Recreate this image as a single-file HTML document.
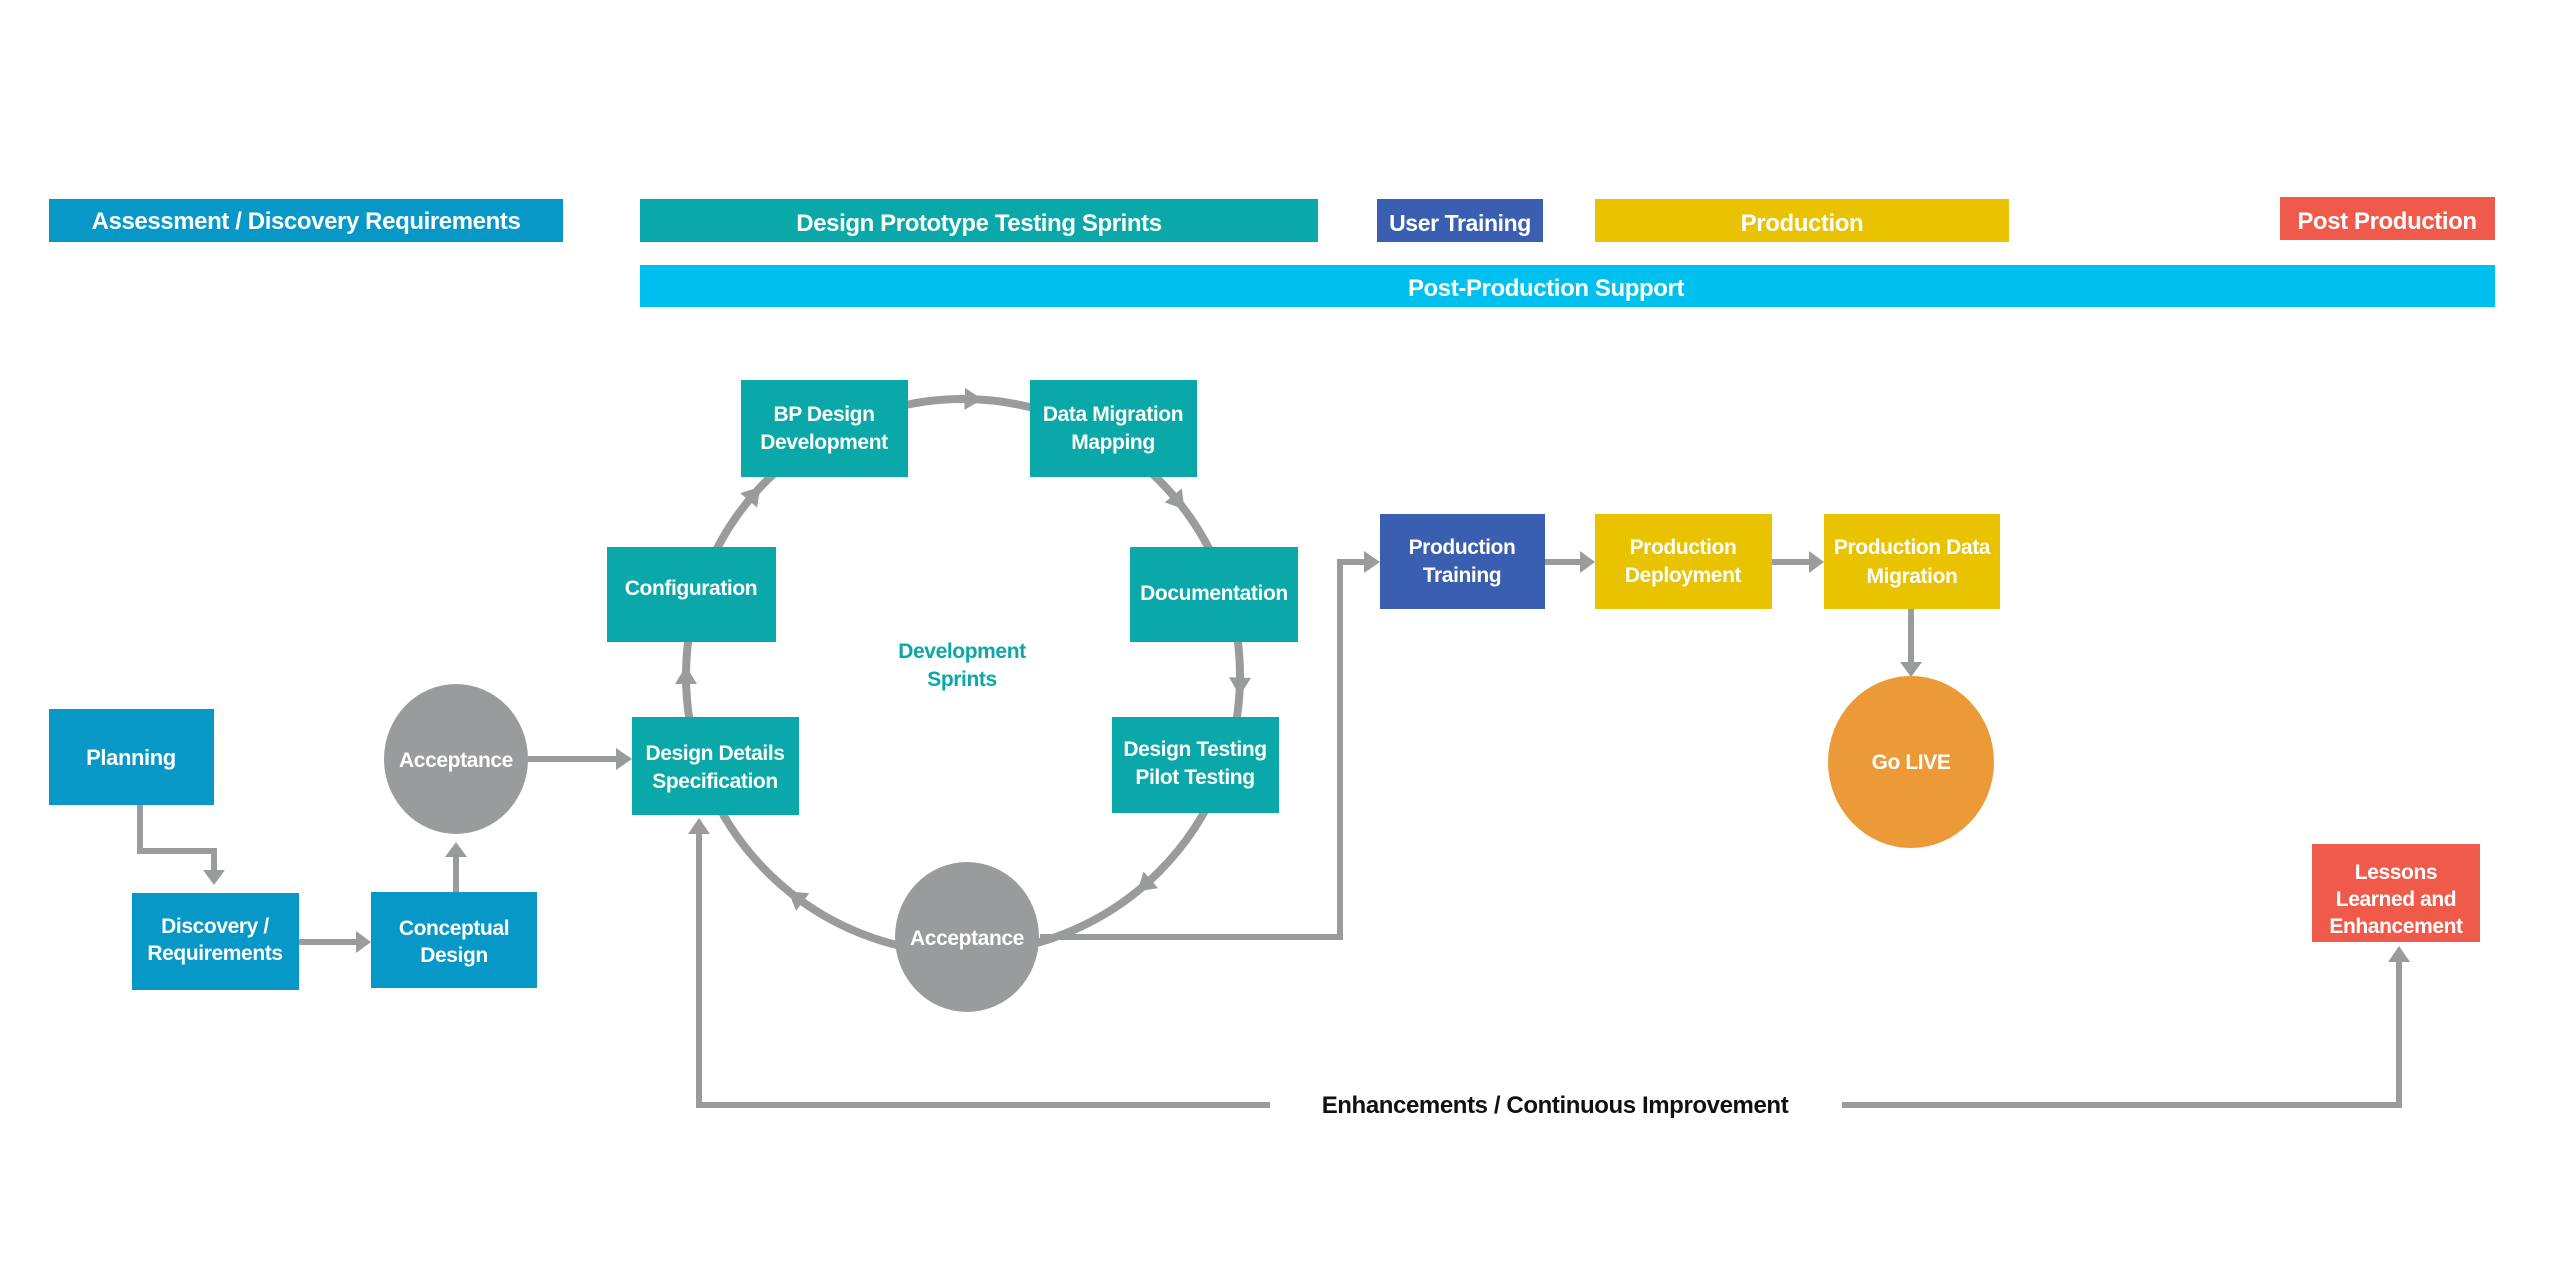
<!DOCTYPE html>
<html><head><meta charset="utf-8"><style>
html,body{margin:0;padding:0;background:#fff;}
svg{display:block;}
text{font-family:"Liberation Sans",sans-serif;font-weight:bold;fill:#fff;text-anchor:middle;letter-spacing:-0.4px;}
</style></head><body>
<svg width="2560" height="1280" viewBox="0 0 2560 1280" xmlns="http://www.w3.org/2000/svg">
<!-- header bars -->
<rect x="49" y="199" width="514" height="43" fill="#0898c8"/>
<text x="306" y="229" font-size="24">Assessment / Discovery Requirements</text>
<rect x="640" y="199" width="678" height="43" fill="#0aa8a8"/>
<text x="979" y="231" font-size="24">Design Prototype Testing Sprints</text>
<rect x="1377" y="199" width="166" height="43" fill="#3a5fb0"/>
<text x="1460" y="231" font-size="23">User Training</text>
<rect x="1595" y="199" width="414" height="43" fill="#e9c200"/>
<text x="1802" y="231" font-size="24">Production</text>
<rect x="2280" y="197" width="215" height="43" fill="#ef5a4a"/>
<text x="2387" y="229" font-size="24">Post Production</text>
<rect x="640" y="265" width="1855" height="42" fill="#00c0ef"/>
<text x="1546" y="296" font-size="24">Post-Production Support</text>

<g stroke="#9a9b9d" stroke-width="6" fill="none">
<circle cx="963" cy="676" r="277" stroke-width="8"/>
<polyline points="140,805 140,851 214,851 214,872"/>
<line x1="299" y1="942" x2="358" y2="942"/>
<line x1="456" y1="892" x2="456" y2="855"/>
<line x1="528" y1="759" x2="618" y2="759"/>
<polyline points="1040,937 1340,937 1340,562 1366,562"/>
<line x1="1545" y1="562" x2="1582" y2="562"/>
<line x1="1772" y1="562" x2="1811" y2="562"/>
<line x1="1911" y1="609" x2="1911" y2="664"/>
<polyline points="1270,1105 699,1105 699,832"/>
<polyline points="1842,1105 2399,1105 2399,960"/>
</g>
<g fill="#9a9b9d">
<polygon points="203,870 225,870 214,885"/>
<polygon points="356,931 356,953 371,942"/>
<polygon points="445,857 467,857 456,842"/>
<polygon points="616,748 616,770 632,759"/>
<polygon points="1364,551 1364,573 1380,562"/>
<polygon points="1580,551 1580,573 1595,562"/>
<polygon points="1809,551 1809,573 1824,562"/>
<polygon points="1900,662 1922,662 1911,677"/>
<polygon points="688,834 710,834 699,818"/>
<polygon points="2388,962 2410,962 2399,946"/>
<g>
<polygon points="1229,668 1251,668 1240,686" transform="rotate(-88 963 676)"/>
<polygon points="1229,668 1251,668 1240,686" transform="rotate(-39 963 676)"/>
<polygon points="1229,668 1251,668 1240,686" transform="rotate(2 963 676)"/>
<polygon points="1229,668 1251,668 1240,686" transform="rotate(49 963 676)"/>
<polygon points="1229,668 1251,668 1240,686" transform="rotate(127 963 676)"/>
<polygon points="1229,668 1251,668 1240,686" transform="rotate(180 963 676)"/>
<polygon points="1229,668 1251,668 1240,686" transform="rotate(221 963 676)"/>
</g>
</g>

<rect x="49" y="709" width="165" height="96" fill="#0898c8"/>
<text x="131" y="765" font-size="22">Planning</text>
<rect x="132" y="893" width="167" height="97" fill="#0898c8"/>
<text x="215" y="933" font-size="21">Discovery /</text>
<text x="215" y="960" font-size="21">Requirements</text>
<rect x="371" y="892" width="166" height="96" fill="#0898c8"/>
<text x="454" y="935" font-size="21">Conceptual</text>
<text x="454" y="962" font-size="21">Design</text>
<ellipse cx="456" cy="759" rx="72" ry="75" fill="#9a9b9d"/>
<text x="456" y="767" font-size="21">Acceptance</text>

<rect x="632" y="717" width="167" height="98" fill="#0aa8a8"/>
<text x="715" y="760" font-size="21">Design Details</text>
<text x="715" y="788" font-size="21">Specification</text>
<rect x="607" y="547" width="169" height="95" fill="#0aa8a8"/>
<text x="691" y="595" font-size="21">Configuration</text>
<rect x="741" y="380" width="167" height="97" fill="#0aa8a8"/>
<text x="824" y="421" font-size="21">BP Design</text>
<text x="824" y="449" font-size="21">Development</text>
<rect x="1030" y="380" width="167" height="97" fill="#0aa8a8"/>
<text x="1113" y="421" font-size="21">Data Migration</text>
<text x="1113" y="449" font-size="21">Mapping</text>
<rect x="1130" y="547" width="168" height="95" fill="#0aa8a8"/>
<text x="1214" y="600" font-size="21">Documentation</text>
<rect x="1112" y="717" width="167" height="96" fill="#0aa8a8"/>
<text x="1195" y="756" font-size="21">Design Testing</text>
<text x="1195" y="784" font-size="21">Pilot Testing</text>
<ellipse cx="967" cy="937" rx="72" ry="75" fill="#9a9b9d"/>
<text x="967" y="945" font-size="21">Acceptance</text>
<text x="962" y="658" font-size="21" style="fill:#0aa8a8">Development</text>
<text x="962" y="686" font-size="21" style="fill:#0aa8a8">Sprints</text>

<rect x="1380" y="514" width="165" height="95" fill="#3a5fb0"/>
<text x="1462" y="554" font-size="21">Production</text>
<text x="1462" y="582" font-size="21">Training</text>
<rect x="1595" y="514" width="177" height="95" fill="#e9c200"/>
<text x="1683" y="554" font-size="21">Production</text>
<text x="1683" y="582" font-size="21">Deployment</text>
<rect x="1824" y="514" width="176" height="95" fill="#e9c200"/>
<text x="1912" y="554" font-size="21">Production Data</text>
<text x="1912" y="583" font-size="21">Migration</text>
<ellipse cx="1911" cy="762" rx="83" ry="86" fill="#ec9a38"/>
<text x="1911" y="769" font-size="21">Go LIVE</text>
<rect x="2312" y="844" width="168" height="98" fill="#ef5a4a"/>
<text x="2396" y="879" font-size="21">Lessons</text>
<text x="2396" y="906" font-size="21">Learned and</text>
<text x="2396" y="933" font-size="21">Enhancement</text>

<text x="1555" y="1113" font-size="24" style="fill:#111">Enhancements / Continuous Improvement</text>
</svg>
</body></html>
